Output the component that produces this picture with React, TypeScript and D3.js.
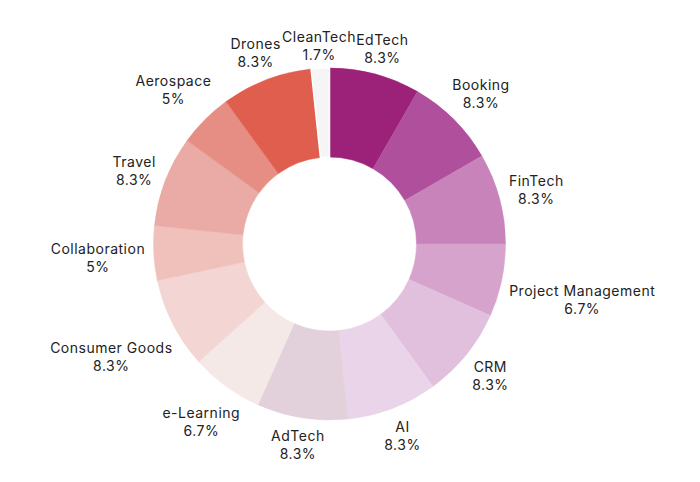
import React from "react";
import * as d3 from "d3";

const categories = [
  "EdTech", "Booking", "FinTech", "Project Management", "CRM", "AI", "AdTech",
  "e-Learning", "Consumer Goods", "Collaboration", "Travel", "Aerospace", "Drones", "CleanTech",
];
const counts = [5, 5, 5, 4, 5, 5, 5, 4, 5, 3, 5, 3, 5, 1];
const colors = [
  "#9c2279", "#b0509d", "#c884ba", "#d6a3cc", "#e1c0dd", "#ead4e9", "#e2d0da",
  "#f5e9e7", "#f3d6d3", "#f0c0bb", "#eaaba6", "#e68e84", "#e05e4e", "#f5f5f5",
];

const W = 700;
const H = 482;
const cx = 329.5;
const cy = 244;
const outerR = 176;
const innerR = 87;
const fontSize = 14;
const letterSpacing = 0.5;
const fontFamily = "Inter, 'Noto Sans', sans-serif";
const lineGap = 18;

let ctx: CanvasRenderingContext2D | null = null;
const textWidth = (s: string) => {
  if (!ctx) ctx = document.createElement("canvas").getContext("2d");
  if (!ctx) return s.length * 8;
  ctx.font = `${fontSize}px ${fontFamily}`;
  return ctx.measureText(s).width + letterSpacing * s.length;
};

const fmt = (v: number) => `${+v.toFixed(1)}%`;

export default function App() {
  const total = d3.sum(counts);
  const data = categories.map((name, i) => ({ name, value: counts[i], color: colors[i] }));
  const pie = d3.pie<typeof data[number]>().value((d) => d.value).sort(null);
  const arcs = pie(data);
  const arc = d3.arc<d3.PieArcDatum<typeof data[number]>>().innerRadius(innerR).outerRadius(outerR);

  return (
    <svg width={W} height={H} style={{ position: "absolute", left: 0, top: 0, background: "#fff" }}>
      <g transform={`translate(${cx},${cy})`}>
        {arcs.map((a) => (
          <path
            key={a.data.name}
            d={arc(a) || ""}
            fill={a.data.color}
            stroke={a.data.name === "CleanTech" ? "#fff" : a.data.color}
            strokeWidth={a.data.name === "CleanTech" ? 1.5 : 0.5}
          />
        ))}
        {arcs.map((a) => {
          const mid = (a.startAngle + a.endAngle) / 2;
          const pct = fmt((a.data.value / total) * 100);
          const halfW = Math.max(textWidth(a.data.name), textWidth(pct)) / 2;
          const r = outerR + 8 + Math.abs(Math.sin(mid)) * halfW + Math.abs(Math.cos(mid)) * 14;
          const x = Math.sin(mid) * r;
          const y = -Math.cos(mid) * r + 3;
          return (
            <g key={"l" + a.data.name} fontFamily={fontFamily} fontSize={fontSize} letterSpacing={letterSpacing} fill="#222" textAnchor="middle">
              <text x={x} y={y - lineGap / 2} dominantBaseline="middle">{a.data.name}</text>
              <text x={x} y={y + lineGap / 2} dominantBaseline="middle">{pct}</text>
            </g>
          );
        })}
      </g>
    </svg>
  );
}
